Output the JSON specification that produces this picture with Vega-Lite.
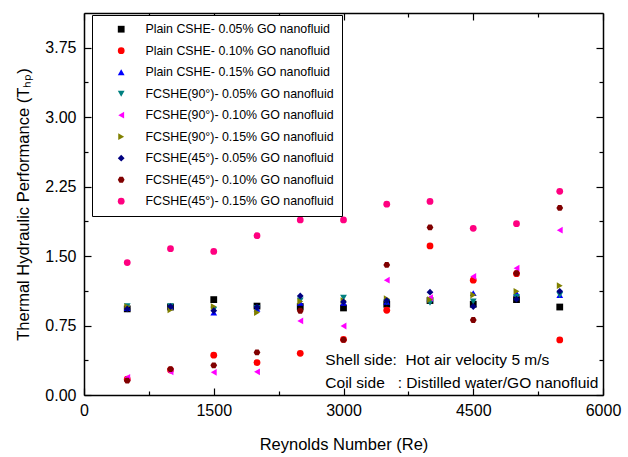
{
  "$schema": "https://vega.github.io/schema/vega-lite/v6.json",
  "width": 519,
  "height": 382,
  "autosize": "none",
  "padding": {"left": 84, "top": 13, "right": 25, "bottom": 62},
  "config": {
    "view": {"stroke": null},
    "font": "Liberation Sans",
    "axis": {
      "domainColor": "black",
      "domainWidth": 1.5,
      "tickColor": "black",
      "tickWidth": 1.2,
      "grid": false,
      "labelFont": "Liberation Sans",
      "labelFontSize": 16,
      "labelColor": "black",
      "titleFont": "Liberation Sans",
      "titleFontSize": 16.5,
      "titleFontWeight": "normal",
      "titleColor": "black"
    }
  },
  "resolve": {"axis": {"x": "independent", "y": "independent"}},
  "layer": [
    {
      "data": {
        "values": [
          {"s": "Plain CSHE- 0.05% GO nanofluid", "x": 500, "y": 0.93},
          {"s": "Plain CSHE- 0.05% GO nanofluid", "x": 1000, "y": 0.95},
          {"s": "Plain CSHE- 0.05% GO nanofluid", "x": 1500, "y": 1.03},
          {"s": "Plain CSHE- 0.05% GO nanofluid", "x": 2000, "y": 0.96},
          {"s": "Plain CSHE- 0.05% GO nanofluid", "x": 2500, "y": 0.955},
          {"s": "Plain CSHE- 0.05% GO nanofluid", "x": 3000, "y": 0.94},
          {"s": "Plain CSHE- 0.05% GO nanofluid", "x": 3500, "y": 0.98},
          {"s": "Plain CSHE- 0.05% GO nanofluid", "x": 4000, "y": 1.02},
          {"s": "Plain CSHE- 0.05% GO nanofluid", "x": 4500, "y": 0.98},
          {"s": "Plain CSHE- 0.05% GO nanofluid", "x": 5000, "y": 1.03},
          {"s": "Plain CSHE- 0.05% GO nanofluid", "x": 5500, "y": 0.95},
          {"s": "Plain CSHE- 0.10% GO nanofluid", "x": 500, "y": 0.17},
          {"s": "Plain CSHE- 0.10% GO nanofluid", "x": 1000, "y": 0.27},
          {"s": "Plain CSHE- 0.10% GO nanofluid", "x": 1500, "y": 0.43},
          {"s": "Plain CSHE- 0.10% GO nanofluid", "x": 2000, "y": 0.35},
          {"s": "Plain CSHE- 0.10% GO nanofluid", "x": 2500, "y": 0.45},
          {"s": "Plain CSHE- 0.10% GO nanofluid", "x": 3000, "y": 0.6},
          {"s": "Plain CSHE- 0.10% GO nanofluid", "x": 3500, "y": 0.915},
          {"s": "Plain CSHE- 0.10% GO nanofluid", "x": 4000, "y": 1.61},
          {"s": "Plain CSHE- 0.10% GO nanofluid", "x": 4500, "y": 1.24},
          {"s": "Plain CSHE- 0.10% GO nanofluid", "x": 5000, "y": 1.31},
          {"s": "Plain CSHE- 0.10% GO nanofluid", "x": 5500, "y": 0.595},
          {"s": "Plain CSHE- 0.15% GO nanofluid", "x": 500, "y": 0.94},
          {"s": "Plain CSHE- 0.15% GO nanofluid", "x": 1000, "y": 0.95},
          {"s": "Plain CSHE- 0.15% GO nanofluid", "x": 1500, "y": 0.89},
          {"s": "Plain CSHE- 0.15% GO nanofluid", "x": 2000, "y": 0.93},
          {"s": "Plain CSHE- 0.15% GO nanofluid", "x": 2500, "y": 0.995},
          {"s": "Plain CSHE- 0.15% GO nanofluid", "x": 3000, "y": 0.995},
          {"s": "Plain CSHE- 0.15% GO nanofluid", "x": 3500, "y": 1.005},
          {"s": "Plain CSHE- 0.15% GO nanofluid", "x": 4000, "y": 1.04},
          {"s": "Plain CSHE- 0.15% GO nanofluid", "x": 4500, "y": 1.1},
          {"s": "Plain CSHE- 0.15% GO nanofluid", "x": 5000, "y": 1.1},
          {"s": "Plain CSHE- 0.15% GO nanofluid", "x": 5500, "y": 1.08},
          {"s": "FCSHE(90°)- 0.05% GO nanofluid", "x": 500, "y": 0.96},
          {"s": "FCSHE(90°)- 0.05% GO nanofluid", "x": 1000, "y": 0.96},
          {"s": "FCSHE(90°)- 0.05% GO nanofluid", "x": 1500, "y": 0.92},
          {"s": "FCSHE(90°)- 0.05% GO nanofluid", "x": 2000, "y": 0.94},
          {"s": "FCSHE(90°)- 0.05% GO nanofluid", "x": 2500, "y": 1.02},
          {"s": "FCSHE(90°)- 0.05% GO nanofluid", "x": 3000, "y": 1.05},
          {"s": "FCSHE(90°)- 0.05% GO nanofluid", "x": 3500, "y": 1.005},
          {"s": "FCSHE(90°)- 0.05% GO nanofluid", "x": 4000, "y": 0.995},
          {"s": "FCSHE(90°)- 0.05% GO nanofluid", "x": 4500, "y": 1.01},
          {"s": "FCSHE(90°)- 0.05% GO nanofluid", "x": 5000, "y": 1.06},
          {"s": "FCSHE(90°)- 0.05% GO nanofluid", "x": 5500, "y": 1.08},
          {"s": "FCSHE(90°)- 0.10% GO nanofluid", "x": 500, "y": 0.19},
          {"s": "FCSHE(90°)- 0.10% GO nanofluid", "x": 1000, "y": 0.25},
          {"s": "FCSHE(90°)- 0.10% GO nanofluid", "x": 1500, "y": 0.245},
          {"s": "FCSHE(90°)- 0.10% GO nanofluid", "x": 2000, "y": 0.25},
          {"s": "FCSHE(90°)- 0.10% GO nanofluid", "x": 2500, "y": 0.8},
          {"s": "FCSHE(90°)- 0.10% GO nanofluid", "x": 3000, "y": 0.745},
          {"s": "FCSHE(90°)- 0.10% GO nanofluid", "x": 3500, "y": 1.24},
          {"s": "FCSHE(90°)- 0.10% GO nanofluid", "x": 4000, "y": 1.05},
          {"s": "FCSHE(90°)- 0.10% GO nanofluid", "x": 4500, "y": 1.28},
          {"s": "FCSHE(90°)- 0.10% GO nanofluid", "x": 5000, "y": 1.37},
          {"s": "FCSHE(90°)- 0.10% GO nanofluid", "x": 5500, "y": 1.78},
          {"s": "FCSHE(90°)- 0.15% GO nanofluid", "x": 500, "y": 0.955},
          {"s": "FCSHE(90°)- 0.15% GO nanofluid", "x": 1000, "y": 0.92},
          {"s": "FCSHE(90°)- 0.15% GO nanofluid", "x": 1500, "y": 0.955},
          {"s": "FCSHE(90°)- 0.15% GO nanofluid", "x": 2000, "y": 0.89},
          {"s": "FCSHE(90°)- 0.15% GO nanofluid", "x": 2500, "y": 1.01},
          {"s": "FCSHE(90°)- 0.15% GO nanofluid", "x": 3000, "y": 1.02},
          {"s": "FCSHE(90°)- 0.15% GO nanofluid", "x": 3500, "y": 1.04},
          {"s": "FCSHE(90°)- 0.15% GO nanofluid", "x": 4000, "y": 1.03},
          {"s": "FCSHE(90°)- 0.15% GO nanofluid", "x": 4500, "y": 1.08},
          {"s": "FCSHE(90°)- 0.15% GO nanofluid", "x": 5000, "y": 1.12},
          {"s": "FCSHE(90°)- 0.15% GO nanofluid", "x": 5500, "y": 1.18},
          {"s": "FCSHE(45°)- 0.05% GO nanofluid", "x": 500, "y": 0.93},
          {"s": "FCSHE(45°)- 0.05% GO nanofluid", "x": 1000, "y": 0.955},
          {"s": "FCSHE(45°)- 0.05% GO nanofluid", "x": 1500, "y": 0.91},
          {"s": "FCSHE(45°)- 0.05% GO nanofluid", "x": 2000, "y": 0.95},
          {"s": "FCSHE(45°)- 0.05% GO nanofluid", "x": 2500, "y": 1.07},
          {"s": "FCSHE(45°)- 0.05% GO nanofluid", "x": 3000, "y": 1.005},
          {"s": "FCSHE(45°)- 0.05% GO nanofluid", "x": 3500, "y": 1.02},
          {"s": "FCSHE(45°)- 0.05% GO nanofluid", "x": 4000, "y": 1.11},
          {"s": "FCSHE(45°)- 0.05% GO nanofluid", "x": 4500, "y": 0.955},
          {"s": "FCSHE(45°)- 0.05% GO nanofluid", "x": 5000, "y": 1.035},
          {"s": "FCSHE(45°)- 0.05% GO nanofluid", "x": 5500, "y": 1.12},
          {"s": "FCSHE(45°)- 0.10% GO nanofluid", "x": 500, "y": 0.155},
          {"s": "FCSHE(45°)- 0.10% GO nanofluid", "x": 1000, "y": 0.28},
          {"s": "FCSHE(45°)- 0.10% GO nanofluid", "x": 1500, "y": 0.32},
          {"s": "FCSHE(45°)- 0.10% GO nanofluid", "x": 2000, "y": 0.46},
          {"s": "FCSHE(45°)- 0.10% GO nanofluid", "x": 2500, "y": 0.91},
          {"s": "FCSHE(45°)- 0.10% GO nanofluid", "x": 3000, "y": 0.595},
          {"s": "FCSHE(45°)- 0.10% GO nanofluid", "x": 3500, "y": 1.405},
          {"s": "FCSHE(45°)- 0.10% GO nanofluid", "x": 4000, "y": 1.81},
          {"s": "FCSHE(45°)- 0.10% GO nanofluid", "x": 4500, "y": 0.81},
          {"s": "FCSHE(45°)- 0.10% GO nanofluid", "x": 5000, "y": 1.315},
          {"s": "FCSHE(45°)- 0.10% GO nanofluid", "x": 5500, "y": 2.02},
          {"s": "FCSHE(45°)- 0.15% GO nanofluid", "x": 500, "y": 1.43},
          {"s": "FCSHE(45°)- 0.15% GO nanofluid", "x": 1000, "y": 1.58},
          {"s": "FCSHE(45°)- 0.15% GO nanofluid", "x": 1500, "y": 1.55},
          {"s": "FCSHE(45°)- 0.15% GO nanofluid", "x": 2000, "y": 1.72},
          {"s": "FCSHE(45°)- 0.15% GO nanofluid", "x": 2500, "y": 1.89},
          {"s": "FCSHE(45°)- 0.15% GO nanofluid", "x": 3000, "y": 1.89},
          {"s": "FCSHE(45°)- 0.15% GO nanofluid", "x": 3500, "y": 2.06},
          {"s": "FCSHE(45°)- 0.15% GO nanofluid", "x": 4000, "y": 2.09},
          {"s": "FCSHE(45°)- 0.15% GO nanofluid", "x": 4500, "y": 1.8},
          {"s": "FCSHE(45°)- 0.15% GO nanofluid", "x": 5000, "y": 1.85},
          {"s": "FCSHE(45°)- 0.15% GO nanofluid", "x": 5500, "y": 2.2}
        ]
      },
      "mark": {"type": "point", "filled": true, "size": 46, "opacity": 0.999},
      "encoding": {
        "x": {
          "field": "x", "type": "quantitative",
          "scale": {"domain": [0, 6000], "nice": false, "zero": false},
          "axis": {
            "orient": "bottom",
            "title": "Reynolds Number (Re)",
            "values": [0, 750, 1500, 2250, 3000, 3750, 4500, 5250, 6000],
            "labelExpr": "datum.value % 1500 === 0 ? datum.label : ''",
            "format": "d",
            "tickSize": {"condition": {"test": "datum.value % 1500 === 0", "value": -7}, "value": -4},
            "labelPadding": 14,
            "titlePadding": 15,
            "labelFlush": false,
            "labelOverlap": false
          }
        },
        "y": {
          "field": "y", "type": "quantitative",
          "scale": {"domain": [0, 4.125], "nice": false, "zero": false},
          "axis": {
            "orient": "left",
            "title": "Thermal Hydraulic Performance (Tₕₚ)",
            "values": [0, 0.375, 0.75, 1.125, 1.5, 1.875, 2.25, 2.625, 3, 3.375, 3.75],
            "labelExpr": "datum.value % 0.75 === 0 ? datum.label : ''",
            "format": ".2f",
            "tickSize": {"condition": {"test": "datum.value % 0.75 === 0", "value": -7}, "value": -4},
            "labelPadding": 15,
            "titlePadding": 13,
            "labelFlush": false,
            "labelOverlap": false
          }
        },
        "color": {
          "field": "s", "type": "nominal",
          "scale": {
            "domain": [
              "Plain CSHE- 0.05% GO nanofluid",
              "Plain CSHE- 0.10% GO nanofluid",
              "Plain CSHE- 0.15% GO nanofluid",
              "FCSHE(90°)- 0.05% GO nanofluid",
              "FCSHE(90°)- 0.10% GO nanofluid",
              "FCSHE(90°)- 0.15% GO nanofluid",
              "FCSHE(45°)- 0.05% GO nanofluid",
              "FCSHE(45°)- 0.10% GO nanofluid",
              "FCSHE(45°)- 0.15% GO nanofluid"
            ],
            "range": ["#000000", "#FF0000", "#0000FF", "#008080", "#FF00FF", "#808000", "#000080", "#800000", "#FF0080"]
          },
          "legend": {
            "title": null,
            "orient": "none",
            "legendX": 8,
            "legendY": 2,
            "padding": 8,
            "strokeColor": "black",
            "fillColor": "white",
            "labelFont": "Liberation Sans",
            "labelFontSize": 12.4,
            "labelColor": "black",
            "labelLimit": 400,
            "labelExpr": "slice(datum.label, 0, 5) === 'FCSHE' ? '\u00a0' + datum.label : datum.label",
            "symbolOffset": 15,
            "labelOffset": 18,
            "rowPadding": 8.5,
            "symbolSize": 46
          }
        },
        "shape": {
          "field": "s", "type": "nominal",
          "scale": {
            "domain": [
              "Plain CSHE- 0.05% GO nanofluid",
              "Plain CSHE- 0.10% GO nanofluid",
              "Plain CSHE- 0.15% GO nanofluid",
              "FCSHE(90°)- 0.05% GO nanofluid",
              "FCSHE(90°)- 0.10% GO nanofluid",
              "FCSHE(90°)- 0.15% GO nanofluid",
              "FCSHE(45°)- 0.05% GO nanofluid",
              "FCSHE(45°)- 0.10% GO nanofluid",
              "FCSHE(45°)- 0.15% GO nanofluid"
            ],
            "range": ["square", "circle", "triangle-up", "triangle-down", "triangle-left", "triangle-right", "diamond", "M-1,0L-0.5,-0.866L0.5,-0.866L1,0L0.5,0.866L-0.5,0.866Z", "circle"]
          }
        }
      }
    },
    {
      "data": {
        "values": [
          {"x": 2790, "y": 0.38, "t": "Shell side:\u00a0 Hot air velocity 5 m/s"},
          {"x": 2790, "y": 0.13, "t": "Coil side\u00a0\u00a0\u00a0: Distilled water/GO nanofluid"}
        ]
      },
      "mark": {"type": "text", "align": "left", "baseline": "middle", "fontSize": 15.5, "font": "Liberation Sans", "color": "black"},
      "encoding": {
        "x": {
          "field": "x", "type": "quantitative",
          "axis": {
            "orient": "top",
            "title": null,
            "values": [0, 750, 1500, 2250, 3000, 3750, 4500, 5250, 6000],
            "labels": false,
            "tickSize": {"condition": {"test": "datum.value % 1500 === 0", "value": -7}, "value": -4}
          }
        },
        "y": {
          "field": "y", "type": "quantitative",
          "axis": {
            "orient": "right",
            "title": null,
            "values": [0, 0.375, 0.75, 1.125, 1.5, 1.875, 2.25, 2.625, 3, 3.375, 3.75],
            "labels": false,
            "tickSize": {"condition": {"test": "datum.value % 0.75 === 0", "value": -7}, "value": -4}
          }
        },
        "text": {"field": "t"}
      }
    }
  ]
}
